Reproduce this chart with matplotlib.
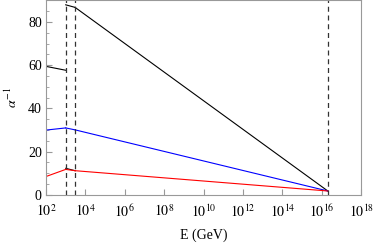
import numpy as np
import matplotlib.pyplot as plt

plt.rcParams['font.family'] = ['Liberation Serif', 'DejaVu Serif']
plt.rcParams['mathtext.fontset'] = 'stix'

# running of inverse couplings
e_low = [1e2, 1e3]
a1_low = [59.5, 57.7]
a2_low = [30.0, 31.0]
a3_low = [8.5, 11.8]

e_mid = [1e3, 3e3]
a1_mid = [88.0, 86.8]
a3_mid = [12.3, 11.2]

e_high = [3e3, 2e16]
a1_high = [86.8, 1.8]
a2_high = [30.1, 1.8]
a3_high = [11.2, 1.8]
a2_kink = [1e3, 3e3]
a2_kink_v = [31.0, 30.1]

thresholds = [1e3, 3e3, 2e16]
xticks = [10.0**k for k in range(2, 19, 2)]
xticklabels = [r'$10^{%d}$' % k for k in range(2, 19, 2)]

fig = plt.figure(figsize=(3.74, 2.43), dpi=100)
ax = fig.add_axes([0.123, 0.198, 0.843, 0.8])

lw = 0.8
ax.plot(e_low, a1_low, color='black', lw=lw)
ax.plot(e_mid, a1_mid, color='black', lw=lw)
ax.plot(e_high, a1_high, color='black', lw=lw)
ax.plot(e_mid, a3_mid, color='black', lw=lw)
ax.plot(e_low, a2_low, color='blue', lw=lw)
ax.plot(a2_kink, a2_kink_v, color='blue', lw=lw)
ax.plot(e_high, a2_high, color='blue', lw=lw)
ax.plot(e_low, a3_low, color='red', lw=lw)
ax.plot([1e3, 3e3], [11.8, 11.2], color='red', lw=lw)
ax.plot(e_high, a3_high, color='red', lw=lw)

for t in thresholds:
    ax.axvline(t, color='#333333', lw=0.9, ls=(0, (4, 3)))

ax.set_xscale('log')
ax.set_xlim(1e2, 1e18)
ax.set_ylim(0, 90)
ax.set_xticks(xticks)
ax.set_xticklabels(xticklabels)
ax.xaxis.set_minor_locator(plt.NullLocator())
ax.set_yticks([0, 20, 40, 60, 80])
ax.set_yticks(np.arange(0, 90, 5), minor=True)

for s in ax.spines.values():
    s.set_color('#999999')
    s.set_linewidth(0.8)
ax.tick_params(direction='in', which='both', color='#999999', labelsize=10)
ax.tick_params(axis='x', pad=6)
ax.tick_params(axis='y', pad=3)
ax.tick_params(which='major', length=4)
ax.tick_params(which='minor', length=2)

ax.set_xlabel('E (GeV)', fontsize=10, labelpad=6)
ax.set_ylabel(r'$\alpha^{-1}$', fontsize=10, labelpad=6)

fig.savefig('out.png', dpi=100)
